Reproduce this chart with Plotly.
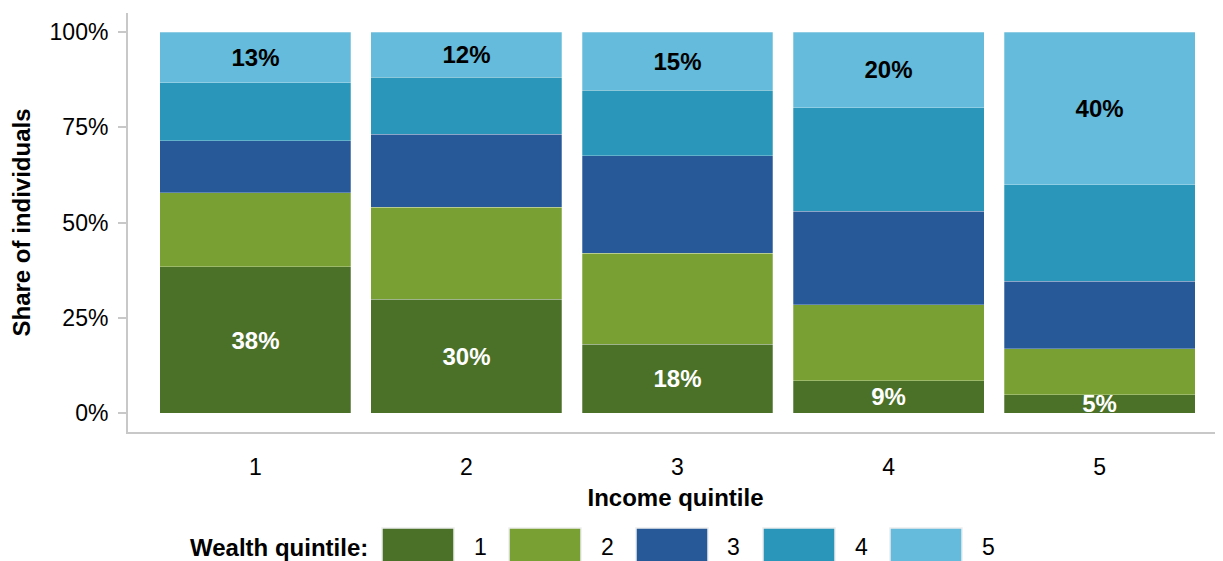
import plotly.graph_objects as go

income_quintiles = ["1", "2", "3", "4", "5"]
wealth_labels = ["1", "2", "3", "4", "5"]

# Share of individuals (%) by wealth quintile within each income quintile
wealth_1 = [38.4, 29.9, 18.1, 8.6, 4.9]
wealth_2 = [19.5, 24.2, 23.9, 19.9, 12.1]
wealth_3 = [13.6, 19.1, 25.5, 24.5, 17.6]
wealth_4 = [15.2, 15.0, 17.3, 27.1, 25.4]
wealth_5 = [13.3, 11.8, 15.2, 19.9, 40.0]

series = [wealth_1, wealth_2, wealth_3, wealth_4, wealth_5]
colors = ["#4B7028", "#78A032", "#275999", "#2A96BA", "#64BBDB"]
label_colors = ["white", None, None, None, "black"]

y_ticks = [0, 25, 50, 75, 100]
y_ticktext = ["0%", "25%", "50%", "75%", "100%"]

FONT = "Liberation Sans, Arial, sans-serif"
AXIS_GRAY = "#C8C8C8"

# the page body has an 8px margin; lay the figure out so it lands on the window pixels
OFF = 8
W, H = 1223 - OFF, 561 - OFF

fig = go.Figure()
for i, vals in enumerate(series):
    show_text = label_colors[i] is not None
    fig.add_trace(go.Bar(
        x=income_quintiles,
        y=vals,
        name=wealth_labels[i],
        marker=dict(color=colors[i], line=dict(width=0.6, color="rgba(255,255,255,0.45)")),
        texttemplate="<b>%{y:.0f}%</b>" if show_text else None,
        textposition="inside" if show_text else "none",
        insidetextanchor="middle",
        textangle=0,
        constraintext="none",
        textfont=dict(family=FONT, size=24, color=label_colors[i] or "black"),
        showlegend=False,
        hoverinfo="skip",
    ))

# plot area in window pixels
plot_left, plot_right, plot_top, plot_bottom = 128 - OFF, 1223 - OFF, 13 - OFF, 432 - OFF
pw = plot_right - plot_left
ph = plot_bottom - plot_top

def px_x(px):
    return (px - OFF - plot_left) / pw

def px_y(py):
    return (plot_bottom - (py - OFF)) / ph

# Custom legend (large swatches) placed below the plot
shapes = []
annotations = []
leg_start, leg_step, sw_w = 382, 127, 72
for i, lab in enumerate(wealth_labels):
    x0 = leg_start + i * leg_step
    shapes.append(dict(type="rect", xref="paper", yref="paper",
                       x0=px_x(x0), x1=px_x(x0 + sw_w), y0=px_y(563), y1=px_y(528),
                       fillcolor=colors[i], line=dict(color="#EDEDED", width=1.5)))
    annotations.append(dict(xref="paper", yref="paper", x=px_x(x0 + 98), y=px_y(547),
                            text=lab, showarrow=False, xanchor="center", yanchor="middle",
                            font=dict(family=FONT, size=23, color="black")))
annotations.append(dict(xref="paper", yref="paper", x=px_x(370), y=px_y(547),
                        text="<b>Wealth quintile:</b>", showarrow=False,
                        xanchor="right", yanchor="middle",
                        font=dict(family=FONT, size=24, color="black")))

fig.update_layout(
    width=W, height=H,
    margin=dict(l=plot_left, r=W - plot_right, t=plot_top, b=H - plot_bottom, pad=0),
    barmode="stack",
    bargap=0.095,
    plot_bgcolor="white",
    paper_bgcolor="white",
    font=dict(family=FONT, color="black"),
    shapes=shapes,
    annotations=annotations,
    showlegend=False,
)
fig.update_xaxes(
    type="category",
    range=[-0.604, 4.585],
    showline=True, linecolor=AXIS_GRAY, linewidth=2,
    showgrid=False, zeroline=False, ticks="",
    ticklabelstandoff=13,
    tickfont=dict(family=FONT, size=23, color="black"),
    title=dict(text="<b>Income quintile</b>", standoff=11,
               font=dict(family=FONT, size=24, color="black")),
)
fig.update_yaxes(
    range=[-4.9, 105],
    tickmode="array", tickvals=y_ticks, ticktext=y_ticktext,
    showline=True, linecolor=AXIS_GRAY, linewidth=2,
    ticks="outside", ticklen=8, tickcolor=AXIS_GRAY, tickwidth=2,
    ticklabelstandoff=5,
    showgrid=False, zeroline=False,
    tickfont=dict(family=FONT, size=23, color="black"),
    title=dict(text="<b>Share of individuals</b>", standoff=12,
               font=dict(family=FONT, size=24, color="black")),
)

fig.write_html("out.html")
